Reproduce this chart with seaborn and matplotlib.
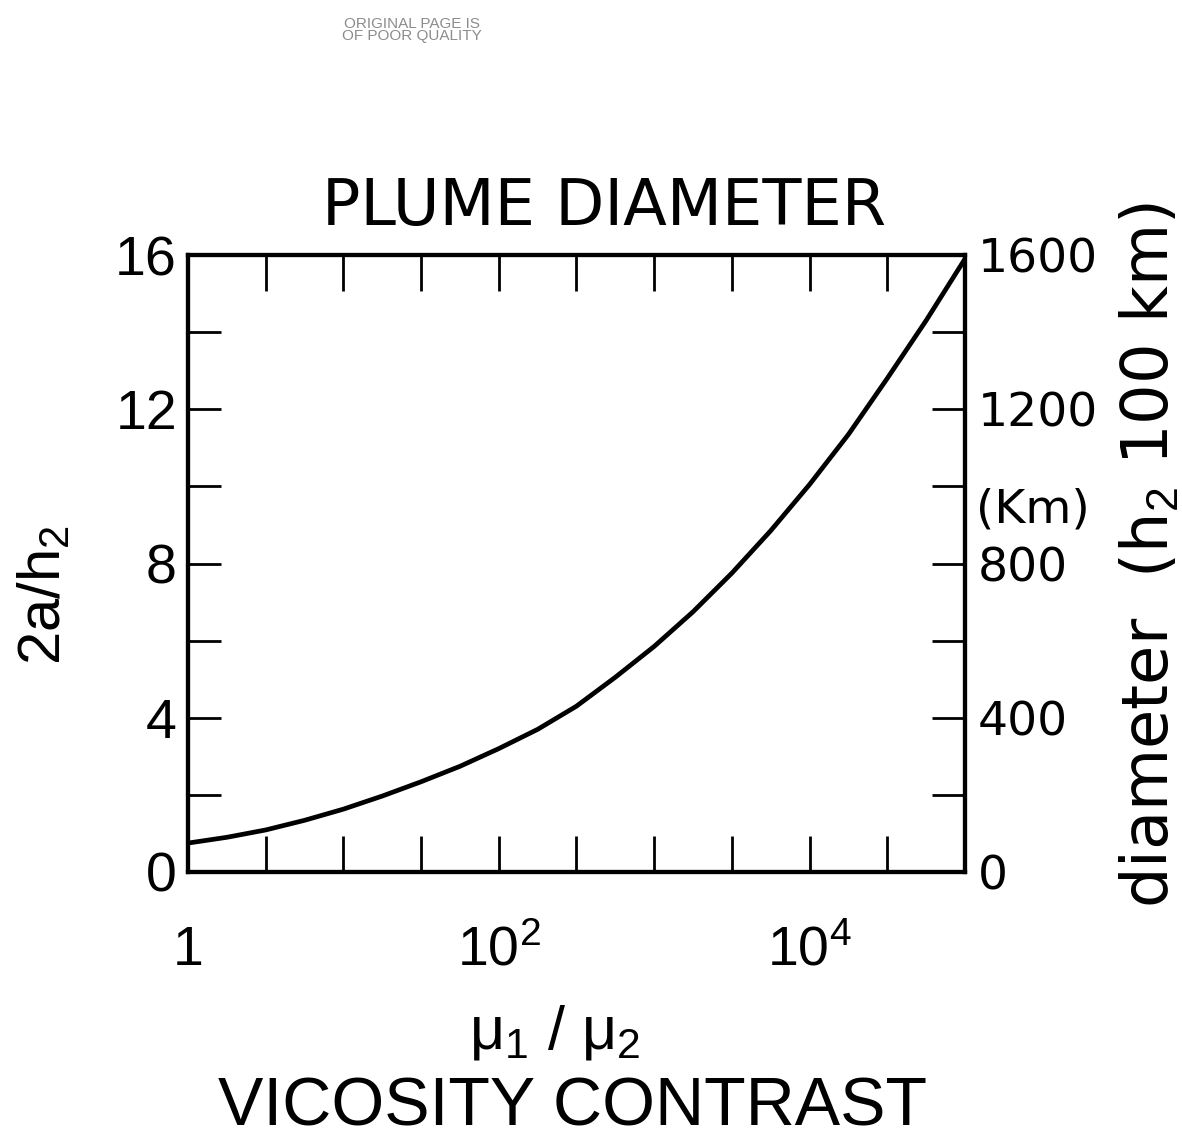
import numpy as np
import pandas as pd
import matplotlib
matplotlib.use("Agg")
import matplotlib.pyplot as plt
import seaborn as sns

# ── Data ───────────────────────────────────────────────────────────
viscosity = [1, 1.78, 3.16, 5.62, 10, 17.8, 31.6, 56.2, 100, 178, 316, 562,
             1000, 1780, 3160, 5620, 1e4, 1.78e4, 3.16e4, 5.62e4, 1e5]
diameter = [0.75, 0.90, 1.09, 1.34, 1.63, 1.97, 2.34, 2.74, 3.20, 3.70, 4.30,
            5.05, 5.85, 6.75, 7.75, 8.85, 10.05, 11.35, 12.8, 14.3, 15.9]

x_ticks = [1, 3.16, 10, 31.6, 100, 316, 1000, 3162, 1e4, 31623, 1e5]
x_tick_labels = ["1", "", "", "", "10$^2$", "", "", "", "10$^4$", "", ""]
y_ticks = [0, 2, 4, 6, 8, 10, 12, 14, 16]
y_tick_labels = ["0", "", "4", "", "8", "", "12", "", "16"]
km_ticks = [0, 200, 400, 600, 800, 1000, 1200, 1400, 1600]
km_tick_labels = ["0", "", "400", "", "800", "", "1200", "", "1600"]

df = pd.DataFrame({"ratio": viscosity, "diam": diameter})

# ── Style ──────────────────────────────────────────────────────────
sns.set_theme(style="white")
plt.rcParams["font.family"] = ["Liberation Sans", "DejaVu Sans"]
plt.rcParams["mathtext.fontset"] = "custom"
plt.rcParams["mathtext.rm"] = "Liberation Sans"
plt.rcParams["mathtext.it"] = "Liberation Sans"
plt.rcParams["text.color"] = "black"
plt.rcParams["axes.edgecolor"] = "black"

W, H = 1182, 1147
fig = plt.figure(figsize=(W / 100, H / 100), dpi=100)
ax = fig.add_axes([188 / W, 1 - 872 / H, (965 - 188) / W, (872 - 255) / H])

sns.lineplot(data=df, x="ratio", y="diam", ax=ax, color="black", lw=3.4)
ax.set_xscale("log")
ax.set_xlim(1, 1e5)
ax.set_ylim(0, 16)
ax.set_xlabel("")
ax.set_ylabel("")
ax.minorticks_off()

ax.set_xticks(x_ticks)
ax.set_xticklabels(x_tick_labels)
ax.set_yticks(y_ticks)
ax.set_yticklabels(y_tick_labels)
for s in ax.spines.values():
    s.set_linewidth(3)
    s.set_color("black")

ax.tick_params(axis="x", which="major", direction="in", length=26, width=2,
               top=True, bottom=True, labelsize=40, pad=67, colors="black")
ax.tick_params(axis="y", which="major", direction="in", length=24, width=2,
               left=True, right=False, labelsize=40, pad=8, colors="black")
for t in ax.get_xticklabels():
    t.set_va("baseline")

# right-hand km axis
ax2 = ax.twinx()
ax2.set_ylim(0, 1600)
ax2.set_yticks(km_ticks)
ax2.set_yticklabels(km_tick_labels, family="DejaVu Sans")
ax2.minorticks_off()
ax2.tick_params(axis="y", direction="in", length=24, width=2, right=True,
                labelsize=34, pad=9, colors="black")
for s in ax2.spines.values():
    s.set_linewidth(3)
    s.set_color("black")
ax2.text(1.014, 940, "(Km)", transform=ax2.get_yaxis_transform(),
         ha="left", va="center", fontsize=34, family="DejaVu Sans")

# ── Text ───────────────────────────────────────────────────────────
fig.text(604 / W, 1 - 207 / H, "PLUME DIAMETER", ha="center", va="center",
         fontsize=46, family="DejaVu Sans")
fig.text(45 / W, 1 - 595 / H, "2a/h$_2$", rotation=90, ha="center",
         va="center", fontsize=43)
fig.text(1150 / W, 1 - 555 / H, "diameter  (h$_2$ 100 km)", rotation=90,
         ha="center", va="center", fontsize=46, family="DejaVu Sans")
fig.text(555 / W, 1 - 1033 / H, "μ$_1$ / μ$_2$", ha="center", va="center",
         fontsize=44)
fig.text(572 / W, 1 - 1108 / H, "VICOSITY CONTRAST", ha="center", va="center",
         fontsize=49)
fig.text(412 / W, 1 - 30 / H, "ORIGINAL PAGE IS\nOF POOR QUALITY", ha="center",
         va="center", fontsize=11, color="0.55", linespacing=0.9)

fig.savefig("out.png", dpi=100)
plt.close(fig)
